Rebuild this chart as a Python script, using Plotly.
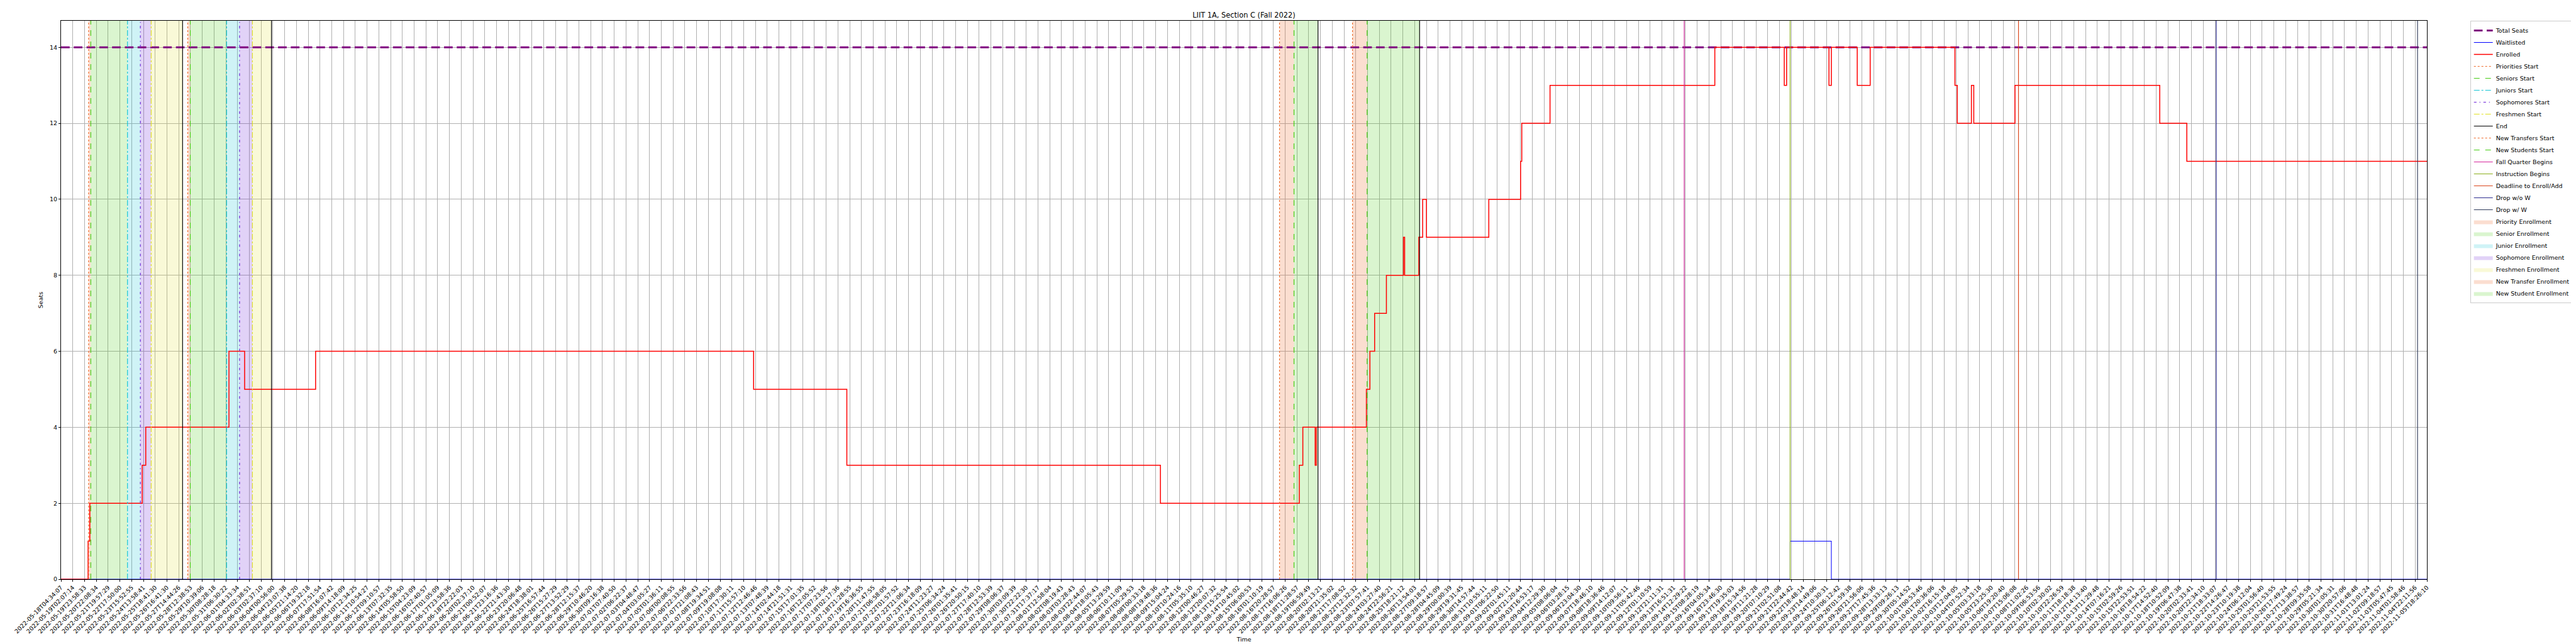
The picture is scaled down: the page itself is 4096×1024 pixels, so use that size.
import plotly.graph_objects as go

# ---------------- data ----------------
tick_labels = [
    "2022-05-18T04:34:07", "2022-05-19T02:07:14", "2022-05-19T23:58:33", "2022-05-20T22:08:34",
    "2022-05-21T19:57:29", "2022-05-22T17:50:00", "2022-05-23T15:52:55", "2022-05-24T13:58:41",
    "2022-05-25T18:41:30", "2022-05-26T16:41:30", "2022-05-27T14:44:26", "2022-05-28T12:38:53",
    "2022-05-29T10:39:06", "2022-05-30T08:28:18", "2022-05-31T06:30:22", "2022-06-01T04:33:34",
    "2022-06-02T02:38:51", "2022-06-03T02:37:10", "2022-06-04T00:56:00", "2022-06-04T23:07:38",
    "2022-06-05T21:14:20", "2022-06-06T19:32:18", "2022-06-07T17:51:54", "2022-06-08T16:07:42",
    "2022-06-09T14:18:09", "2022-06-10T12:34:25", "2022-06-11T10:54:27", "2022-06-12T09:10:57",
    "2022-06-13T07:32:35", "2022-06-14T05:58:50", "2022-06-15T04:23:09", "2022-06-16T02:40:57",
    "2022-06-17T01:05:09", "2022-06-17T23:58:36", "2022-06-18T22:22:03", "2022-06-20T02:37:10",
    "2022-06-21T00:52:07", "2022-06-21T23:16:36", "2022-06-22T21:43:30", "2022-06-23T20:06:48",
    "2022-06-24T18:38:01", "2022-06-25T16:57:44", "2022-06-26T15:27:29", "2022-06-27T13:52:29",
    "2022-06-28T12:15:37", "2022-06-29T10:46:20", "2022-06-30T09:16:38", "2022-07-01T07:40:50",
    "2022-07-02T06:22:37", "2022-07-03T04:48:47", "2022-07-04T03:05:27", "2022-07-05T01:36:11",
    "2022-07-06T00:08:55", "2022-07-06T22:33:56", "2022-07-07T21:08:43", "2022-07-08T19:34:51",
    "2022-07-09T19:08:08", "2022-07-10T17:30:11", "2022-07-11T15:57:10", "2022-07-12T12:46:46",
    "2022-07-13T07:48:39", "2022-07-14T02:44:18", "2022-07-14T21:51:31", "2022-07-15T17:01:35",
    "2022-07-16T12:05:52", "2022-07-17T07:23:56", "2022-07-18T02:17:36", "2022-07-18T21:28:55",
    "2022-07-19T16:36:55", "2022-07-20T11:47:55", "2022-07-21T06:58:05", "2022-07-22T01:57:52",
    "2022-07-22T21:06:34", "2022-07-23T16:18:09", "2022-07-24T11:23:27", "2022-07-25T06:34:24",
    "2022-07-26T01:35:41", "2022-07-26T20:50:15", "2022-07-27T17:40:10", "2022-07-28T12:53:39",
    "2022-07-29T08:06:37", "2022-07-30T03:09:39", "2022-07-30T22:22:30", "2022-07-31T17:37:17",
    "2022-08-01T12:58:04", "2022-08-02T08:19:43", "2022-08-03T03:28:43", "2022-08-03T22:44:07",
    "2022-08-04T18:05:43", "2022-08-05T13:29:59", "2022-08-06T10:11:09", "2022-08-07T05:29:53",
    "2022-08-08T00:33:18", "2022-08-08T19:48:36", "2022-08-09T15:04:24", "2022-08-10T10:24:16",
    "2022-08-11T05:35:10", "2022-08-12T00:46:27", "2022-08-12T20:07:32", "2022-08-13T15:25:54",
    "2022-08-14T10:45:02", "2022-08-15T06:00:53", "2022-08-16T01:10:19", "2022-08-16T20:28:57",
    "2022-08-17T16:06:26", "2022-08-18T11:28:57", "2022-08-19T06:59:49", "2022-08-20T02:13:21",
    "2022-08-20T21:35:02", "2022-08-21T17:08:52", "2022-08-22T12:32:32", "2022-08-23T07:57:41",
    "2022-08-24T03:27:40", "2022-08-24T22:56:21", "2022-08-25T18:21:12", "2022-08-26T13:54:03",
    "2022-08-27T09:18:57", "2022-08-28T04:45:09", "2022-08-29T00:00:39", "2022-08-29T19:31:45",
    "2022-08-30T14:57:44", "2022-08-31T10:55:11", "2022-09-01T06:22:50", "2022-09-02T01:45:11",
    "2022-09-02T21:20:44", "2022-09-03T16:53:17", "2022-09-04T12:29:30", "2022-09-05T08:06:04",
    "2022-09-06T03:28:15", "2022-09-06T23:04:30", "2022-09-07T18:46:10", "2022-09-08T18:36:46",
    "2022-09-09T14:12:07", "2022-09-10T09:56:11", "2022-09-11T05:42:46", "2022-09-12T01:10:59",
    "2022-09-12T21:11:31", "2022-09-13T16:51:31", "2022-09-14T12:29:22", "2022-09-15T08:28:19",
    "2022-09-16T04:05:34", "2022-09-16T23:46:30", "2022-09-17T19:35:03", "2022-09-18T15:34:56",
    "2022-09-19T11:21:28", "2022-09-20T07:10:29", "2022-09-21T02:51:08", "2022-09-21T22:44:42",
    "2022-09-22T18:48:14", "2022-09-23T14:49:06", "2022-09-24T10:30:31", "2022-09-25T06:12:42",
    "2022-09-26T01:59:38", "2022-09-26T21:56:06", "2022-09-27T17:45:36", "2022-09-28T13:33:13",
    "2022-09-29T09:26:13", "2022-09-30T05:14:52", "2022-10-01T00:53:46", "2022-10-01T20:36:06",
    "2022-10-02T16:15:18", "2022-10-03T12:04:05", "2022-10-04T07:52:34", "2022-10-05T03:33:18",
    "2022-10-05T23:25:30", "2022-10-06T19:20:40", "2022-10-07T15:06:08", "2022-10-08T11:02:26",
    "2022-10-09T06:53:56", "2022-10-10T02:30:02", "2022-10-10T22:26:59", "2022-10-11T18:18:38",
    "2022-10-12T14:13:40", "2022-10-13T11:29:48", "2022-10-14T07:16:21", "2022-10-15T02:59:26",
    "2022-10-15T22:53:51", "2022-10-16T18:54:22", "2022-10-17T14:52:40", "2022-10-18T10:52:09",
    "2022-10-19T06:47:38", "2022-10-20T02:33:41", "2022-10-20T22:34:10", "2022-10-21T18:33:07",
    "2022-10-22T14:26:47", "2022-10-23T10:19:38", "2022-10-24T06:12:04", "2022-10-25T01:56:40",
    "2022-10-25T21:53:55", "2022-10-26T17:49:24", "2022-10-27T13:38:57", "2022-10-28T09:35:58",
    "2022-10-29T05:21:34", "2022-10-30T01:05:31", "2022-10-30T20:57:06", "2022-10-31T16:48:48",
    "2022-11-01T13:01:24", "2022-11-02T09:18:57", "2022-11-03T05:47:45", "2022-11-04T01:58:46",
    "2022-11-04T22:11:56", "2022-11-05T18:26:10",
]
tick_pos = list(range(len(tick_labels)))  # timeline position (snapshot step units)

total_seats = 14
y_ticks = [0, 2, 4, 6, 8, 10, 12, 14]
y_top = 14.7

# Enrolled: step series (position, value from that position on)
enrolled_x = [0, 2.30, 2.45, 6.90, 7.20, 14.27, 15.60, 21.63, 58.84, 66.76, 93.40,
              105.20, 105.50, 106.55, 106.65, 110.90, 111.20, 111.60, 112.60, 114.05, 114.15,
              115.35, 115.68, 116.00, 121.30, 124.00, 124.10, 126.50, 140.50, 146.40, 146.60,
              150.20, 150.40, 152.60, 153.70, 160.90, 161.10, 162.30, 162.50, 166.00, 178.30,
              180.60, 201]
enrolled_y = [0, 1, 2, 3, 4, 6, 5, 6, 5, 3, 2,
              3, 4, 3, 4, 5, 6, 7, 8, 9, 8,
              9, 10, 9, 10, 11, 12, 13, 14, 13, 14,
              13, 14, 13, 14, 13, 12, 13, 12, 13, 12,
              11, 11]

# Waitlisted step series
waitlist_x = [0, 146.90, 150.40, 201]
waitlist_y = [0, 1, 0, 0]

# Event markers (timeline positions)
priorities_start = [2.35, 10.77]
seniors_start = [2.53, 10.98]
juniors_start = [5.65, 14.07]
sophomores_start = [6.74, 15.17]
freshmen_start = [7.66, 16.26]
end_marks = [10.33, 17.88, 106.79, 115.42]
new_transfers_start = [103.52, 109.72]
new_students_start = [104.75, 110.96]
fall_quarter_begins = [137.9]
instruction_begins = [146.9]
deadline_add = [166.3]
drop_wo_w = [183.1]
drop_w_w = [200.2]

# Enrollment windows (start, end)
priority_enrollment = [(2.35, 2.53), (10.77, 10.98)]
senior_enrollment = [(2.53, 5.65), (10.98, 14.07)]
junior_enrollment = [(5.65, 6.74), (14.07, 15.17)]
sophomore_enrollment = [(6.74, 7.66), (15.17, 16.26)]
freshmen_enrollment = [(7.66, 10.33), (16.26, 17.88)]
new_transfer_enrollment = [(103.52, 104.75), (109.72, 110.96)]
new_student_enrollment = [(104.75, 106.79), (110.96, 115.42)]

# ---------------- figure ----------------
S = 0.682
FONT = "DejaVu Sans"
fig = go.Figure()


def vlines(xs):
    X, Y = [], []
    for v in xs:
        X += [v, v, None]
        Y += [0, y_top, None]
    return X, Y


def spans(pairs):
    X, Y = [], []
    for a, b in pairs:
        X += [a, b, b, a, a, None]
        Y += [0, 0, y_top, y_top, 0, None]
    return X, Y


span_defs = [
    ("Priority Enrollment", priority_enrollment, "rgba(238,106,42,0.22)"),
    ("Senior Enrollment", senior_enrollment, "rgba(68,204,17,0.2)"),
    ("Junior Enrollment", junior_enrollment, "rgba(17,196,212,0.2)"),
    ("Sophomore Enrollment", sophomore_enrollment, "rgba(106,31,216,0.2)"),
    ("Freshmen Enrollment", freshmen_enrollment, "rgba(224,224,32,0.18)"),
    ("New Transfer Enrollment", new_transfer_enrollment, "rgba(238,106,42,0.22)"),
    ("New Student Enrollment", new_student_enrollment, "rgba(68,204,17,0.2)"),
]
for i, (name, pairs, col) in enumerate(span_defs):
    X, Y = spans(pairs)
    fig.add_trace(go.Scatter(x=X, y=Y, mode="lines", fill="toself", fillcolor=col,
                             line=dict(width=0, color=col), name=name,
                             legendrank=17 + i, hoverinfo="skip"))

fig.add_trace(go.Scatter(x=[0, 201], y=[total_seats, total_seats], mode="lines",
                         line=dict(color="#800080", width=4.3 * S, dash="%.1fpx,%.1fpx" % (20.3 * S, 9.6 * S)),
                         name="Total Seats", legendrank=1))
fig.add_trace(go.Scatter(x=waitlist_x, y=waitlist_y, mode="lines",
                         line=dict(color="#0000ff", width=1.5 * S, shape="hv"),
                         name="Waitlisted", legendrank=2))
fig.add_trace(go.Scatter(x=enrolled_x, y=enrolled_y, mode="lines",
                         line=dict(color="#ff0000", width=2.2 * S, shape="hv"),
                         name="Enrolled", legendrank=3))

soph_dash = "%.1fpx,%.1fpx,%.1fpx,%.1fpx" % (6 * S, 7 * S, 2 * S, 7 * S)
line_defs = [
    ("Priorities Start", priorities_start, "#ee6a2a", "dot"),
    ("Seniors Start", seniors_start, "#44cc11", "dash"),
    ("Juniors Start", juniors_start, "#11c4d4", "dashdot"),
    ("Sophomores Start", sophomores_start, "#6a1fd8", soph_dash),
    ("Freshmen Start", freshmen_start, "#e0e020", "dashdot"),
    ("End", end_marks, "#000000", "solid"),
    ("New Transfers Start", new_transfers_start, "#ee6a2a", "dot"),
    ("New Students Start", new_students_start, "#44cc11", "dash"),
    ("Fall Quarter Begins", fall_quarter_begins, "#d4249c", "solid"),
    ("Instruction Begins", instruction_begins, "#8aae1a", "solid"),
    ("Deadline to Enroll/Add", deadline_add, "#d9441a", "solid"),
    ("Drop w/o W", drop_wo_w, "#2a2a8e", "solid"),
    ("Drop w/ W", drop_w_w, "#2e3a5a", "solid"),
]
for i, (name, xs, col, dash) in enumerate(line_defs):
    X, Y = vlines(xs)
    fig.add_trace(go.Scatter(x=X, y=Y, mode="lines",
                             line=dict(color=col, width=1.7 * S, dash=dash),
                             name=name, legendrank=4 + i, hoverinfo="skip"))

W, H = 4096, 1024
ml, mr, mt, mb = 89, 228, 25, 111
fig.update_layout(
    width=W, height=H,
    margin=dict(l=ml, r=mr, t=mt, b=mb, pad=0),
    paper_bgcolor="white", plot_bgcolor="white",
    font=dict(family=FONT, size=13.9 * S, color="black"),
    title=dict(text="LIIT 1A, Section C (Fall 2022)", x=0.5, xref="paper",
               y=1 - 16 / H, yref="container", yanchor="middle", xanchor="center",
               font=dict(size=16.7 * S, family=FONT, color="black")),
    showlegend=True,
    legend=dict(x=(3937 - ml) / (W - ml - mr), y=1.0, xanchor="left", yanchor="top",
                bordercolor="#cccccc", borderwidth=1, bgcolor="rgba(255,255,255,0.8)",
                font=dict(size=13.9 * S, family=FONT, color="black"),
                traceorder="normal"),
)
fig.update_xaxes(
    range=[0, len(tick_labels) - 1], tickmode="array", tickvals=tick_pos, ticktext=tick_labels,
    tickangle=-45, showgrid=True, gridcolor="#b0b0b0", gridwidth=0.8,
    showline=True, linecolor="black", linewidth=1, mirror=True,
    ticks="outside", ticklen=3, tickwidth=0.8, tickcolor="black", zeroline=False,
    title=dict(text="Time", standoff=4, font=dict(size=13.9 * S, family=FONT)),
    tickfont=dict(size=13.9 * S, family=FONT),
)
fig.update_yaxes(
    range=[0, y_top], tickmode="array", tickvals=y_ticks, ticktext=[str(v) for v in y_ticks],
    showgrid=True, gridcolor="#b0b0b0", gridwidth=0.8,
    showline=True, linecolor="black", linewidth=1, mirror=True,
    ticks="outside", ticklen=3, tickwidth=0.8, tickcolor="black", zeroline=False,
    title=dict(text="Seats", standoff=8, font=dict(size=13.9 * S, family=FONT)),
    tickfont=dict(size=13.9 * S, family=FONT),
)

fig.write_html("out.html")
